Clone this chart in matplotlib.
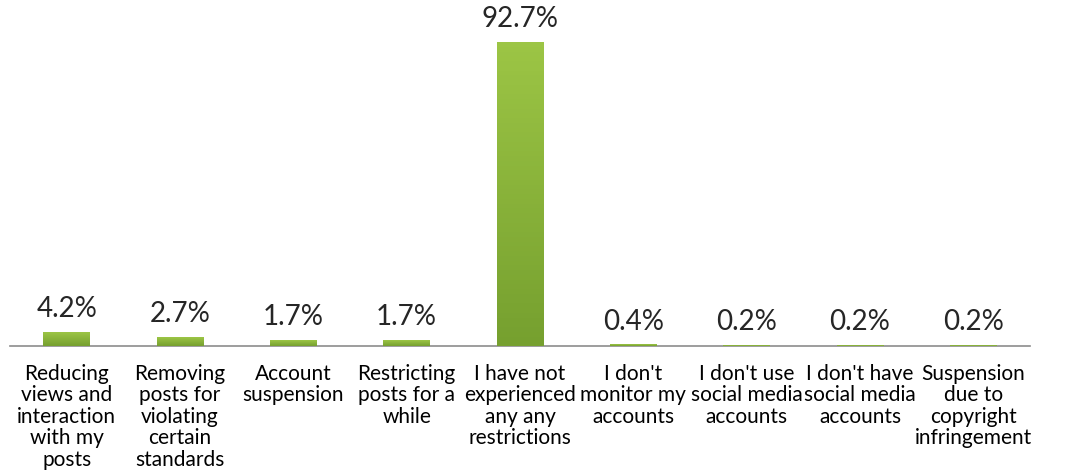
import numpy as np
import matplotlib
matplotlib.use("Agg")
import matplotlib.pyplot as plt
from matplotlib.colors import LinearSegmentedColormap

categories = [
    "Reducing\nviews and\ninteraction\nwith my\nposts",
    "Removing\nposts for\nviolating\ncertain\nstandards",
    "Account\nsuspension",
    "Restricting\nposts for a\nwhile",
    "I have not\nexperienced\nany any\nrestrictions",
    "I don't\nmonitor my\naccounts",
    "I don't use\nsocial media\naccounts",
    "I don't have\nsocial media\naccounts",
    "Suspension\ndue to\ncopyright\ninfringement",
]
values = [4.2, 2.7, 1.7, 1.7, 92.7, 0.4, 0.2, 0.2, 0.2]

plt.rcParams["font.family"] = ["Lato", "DejaVu Sans"]

fig = plt.figure(figsize=(10.7, 4.77), dpi=100)
ax = fig.add_axes([10 / 1070, 130 / 477, 1020 / 1070, 347 / 477])

x = np.arange(len(values))
bars = ax.bar(x, values, width=0.41, color="#8ab83a", edgecolor="none", zorder=2)

# vertical green gradient inside each bar
grad = LinearSegmentedColormap.from_list("g", ["#76a02f", "#9cc545"])
g = np.linspace(0, 1, 64).reshape(-1, 1)
for b in bars:
    x0, w, h = b.get_x(), b.get_width(), b.get_height()
    ax.imshow(g, cmap=grad, origin="lower", aspect="auto",
              extent=(x0, x0 + w, 0, h), zorder=3)
    b.set_alpha(0)

ax.set_xlim(-0.5, len(values) - 0.5)
ax.set_ylim(0, 106)

ax.bar_label(bars, labels=[f"{v}%" for v in values], padding=8,
             fontsize=20, color="#262626")

for s in ["top", "right", "left"]:
    ax.spines[s].set_visible(False)
ax.spines["bottom"].set_color("#8c8c8c")
ax.spines["bottom"].set_linewidth(1.2)
ax.set_yticks([])
ax.set_xticks(x)
ax.set_xticklabels(categories, fontsize=15, color="#000000", linespacing=1.1)
ax.tick_params(axis="x", length=0, pad=12)

fig.savefig("out.png", dpi=100)
